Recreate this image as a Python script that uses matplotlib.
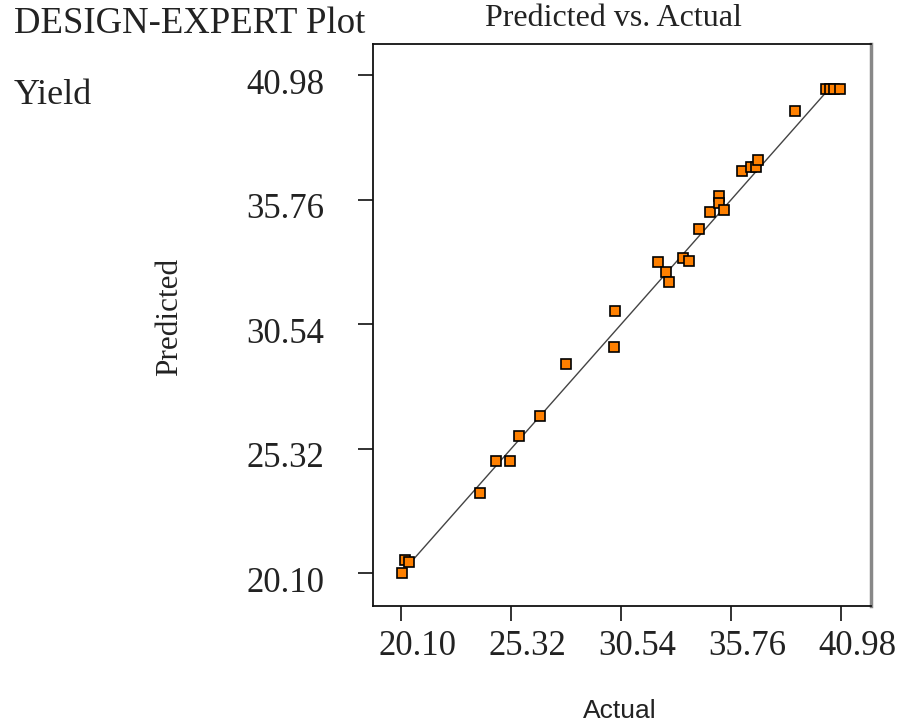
import numpy as np
import matplotlib.pyplot as plt
from matplotlib.transforms import ScaledTranslation

# Yield: actual vs. model-predicted values
actual = [20.13, 20.26, 20.45, 23.82, 24.62, 25.25, 25.68, 26.67, 27.94,
          30.18, 30.26, 32.31, 32.66, 32.79, 33.49, 33.77, 34.25, 34.77,
          35.18, 35.18, 35.42, 36.26, 36.70, 36.92, 37.05, 38.79,
          40.25, 40.45, 40.65, 40.93]
predicted = [20.10, 20.64, 20.57, 23.48, 24.80, 24.80, 25.84, 26.67, 28.87,
             29.58, 31.09, 33.14, 32.72, 32.30, 33.33, 33.19, 34.52, 35.25,
             35.93, 35.62, 35.31, 36.96, 37.13, 37.13, 37.41, 39.46,
             40.39, 40.39, 40.39, 40.39]
ticks = [20.10, 25.32, 30.54, 35.76, 40.98]
tick_labels = ["20.10", "25.32", "30.54", "35.76", "40.98"]
fit_range = [20.40, 40.30]

serif = "Liberation Serif"

fig = plt.figure(figsize=(9.04, 7.25), dpi=100)
ax = fig.add_axes([0.4126, 0.1641, 0.5509, 0.7752])

ax.plot(fit_range, fit_range, color="#444444", lw=1.0, zorder=2)
ax.plot(actual, predicted, linestyle="none", marker="s", ms=6.5,
        mfc="#ff8000", mec="black", mew=1.2, zorder=3)

ax.set_xlim(18.757, 42.40)
ax.set_ylim(18.72, 42.29)
ax.set_xticks(ticks)
ax.set_xticklabels(tick_labels)
ax.set_yticks(ticks)
ax.set_yticklabels(tick_labels)
ax.tick_params(axis="both", length=11, width=1.3, direction="out",
               labelsize=25, colors="#222222")
ax.tick_params(axis="x", pad=6)
ax.tick_params(axis="y", pad=24)

# labels sit a little right of / below their ticks
dx = ScaledTranslation(16 / 100, 0, fig.dpi_scale_trans)
dy = ScaledTranslation(0, -6 / 100, fig.dpi_scale_trans)
for lab in ax.get_xticklabels():
    lab.set_family(serif)
    lab.set_transform(lab.get_transform() + dx)
for lab in ax.get_yticklabels():
    lab.set_family(serif)
    lab.set_transform(lab.get_transform() + dy)

for side in ["left", "top", "bottom"]:
    ax.spines[side].set_linewidth(1.3)
    ax.spines[side].set_color("#111111")
ax.spines["right"].set_linewidth(2.5)
ax.spines["right"].set_color("#888888")

fig.text(14 / 904, 1 - 24 / 725, "DESIGN-EXPERT Plot", family=serif,
         fontsize=26.5, color="#222222", va="center", ha="left")
fig.text(14 / 904, 1 - 96 / 725, "Yield", family=serif,
         fontsize=26, color="#222222", va="center", ha="left")
fig.text(613 / 904, 1 - 19 / 725, "Predicted vs. Actual", family=serif,
         fontsize=23, color="#222222", va="center", ha="center")
fig.text(170 / 904, 1 - 317 / 725, "Predicted", family=serif,
         fontsize=22.5, color="#222222", va="center", ha="center",
         rotation=90)
fig.text(620 / 904, 1 - 711 / 725, "Actual", family="Liberation Sans",
         fontsize=19, color="#222222", va="center", ha="center")

fig.savefig("out.png", dpi=100, facecolor="white")
